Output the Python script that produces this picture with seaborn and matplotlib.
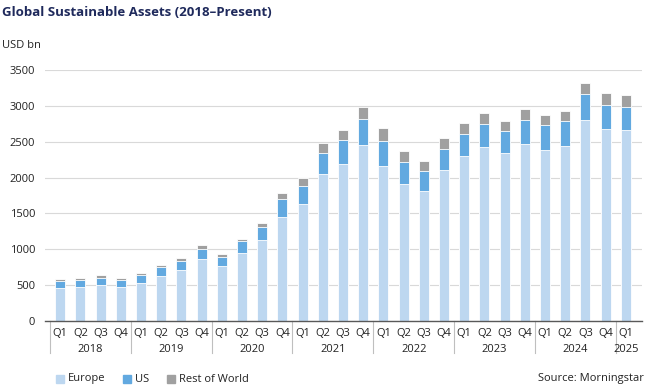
import matplotlib
matplotlib.use("Agg")
import matplotlib.pyplot as plt
import seaborn as sns
import pandas as pd
import numpy as np
from matplotlib.patches import Rectangle

years = ["2018", "2019", "2020", "2021", "2022", "2023", "2024", "2025"]
quarters = ["Q1", "Q2", "Q3", "Q4"] * 7 + ["Q1"]
europe = [464, 474, 497, 478, 534, 632, 706, 864, 767, 948, 1125, 1454, 1631, 2045, 2193, 2453,
          2156, 1910, 1816, 2105, 2300, 2426, 2338, 2472, 2388, 2440, 2806, 2681, 2663]
us = [93, 93, 98, 93, 102, 116, 126, 135, 121, 163, 181, 242, 255, 302, 326, 358,
      358, 306, 275, 288, 302, 316, 306, 334, 340, 344, 358, 334, 325]
rest = [33, 28, 41, 24, 33, 37, 46, 56, 41, 37, 60, 93, 107, 130, 144, 177,
        172, 158, 144, 154, 163, 158, 144, 145, 148, 148, 158, 163, 162]

labels = [f"{q}\n{i}" for i, q in enumerate(quarters)]
df = pd.DataFrame({"idx": labels,
                   "europe": europe,
                   "eu_us": np.array(europe) + np.array(us),
                   "total": np.array(europe) + np.array(us) + np.array(rest)})

c_eu, c_us, c_rw = "#bdd7f0", "#62a9e0", "#a0a0a0"
font = "Open Sans"
plt.rcParams["font.family"] = [font, "DejaVu Sans"]

fig = plt.figure(figsize=(6.46, 3.88), dpi=100)
ax = fig.add_axes([45 / 646, 1 - 321 / 388, (642 - 45) / 646, (321 - 70) / 388])

kw = dict(width=0.5, edgecolor="white", linewidth=0.6, ax=ax, order=labels)
sns.barplot(data=df, x="idx", y="total", color=c_rw, saturation=1, **kw)
sns.barplot(data=df, x="idx", y="eu_us", color=c_us, saturation=1, **kw)
sns.barplot(data=df, x="idx", y="europe", color=c_eu, saturation=1, **kw)

ax.set_ylim(0, 3500)
ax.set_xlim(-0.75, 28.8)
ax.set_yticks(range(0, 3501, 500))
ax.set_yticklabels([str(v) for v in range(0, 3501, 500)], fontsize=8, color="#222222")
ax.set_xticks(range(len(quarters)))
ax.set_xticklabels(quarters, fontsize=8, color="#222222")
ax.tick_params(axis="both", length=0)
ax.tick_params(axis="x", pad=5)
ax.tick_params(axis="y", pad=7)
ax.set_xlabel("")
ax.set_ylabel("")
ax.yaxis.grid(True, color="#d9d9d9", linewidth=0.8)
ax.set_axisbelow(True)
for s in ["top", "right", "left"]:
    ax.spines[s].set_visible(False)
ax.spines["bottom"].set_color("#595959")
ax.spines["bottom"].set_linewidth(1.0)

# year group separators and labels
trans = ax.get_xaxis_transform()
bounds = [-0.5, 3.5, 7.5, 11.5, 15.5, 19.5, 23.5, 27.5, 28.5]
for b in bounds[:-1]:
    ax.plot([b, b], [0, -32 / 251], transform=trans, color="#bfbfbf", lw=0.8, clip_on=False)
for i, y in enumerate(years):
    mid = (bounds[i] + bounds[i + 1]) / 2
    ax.text(mid, -28 / 251, y, transform=trans, ha="center", va="center", fontsize=8, color="#222222")

fig.text(2 / 646, 1 - 12 / 388, "Global Sustainable Assets (2018\u2013Present)", fontsize=9.5,
         fontweight="bold", color="#1f2a5c", va="center", ha="left")
fig.text(2 / 646, 1 - 45 / 388, "USD bn", fontsize=8, color="#222222", va="center", ha="left")

# legend
items = [("Europe", c_eu, 56), ("US", c_us, 123), ("Rest of World", c_rw, 167)]
for name, col, x in items:
    fig.patches.append(Rectangle((x / 646, 1 - 383 / 388), 8 / 646, 8 / 388,
                                 transform=fig.transFigure, color=col, figure=fig))
    fig.text((x + 12) / 646, 1 - 379 / 388, name, fontsize=8, color="#222222", va="center", ha="left")
fig.text(644 / 646, 1 - 379 / 388, "Source: Morningstar", fontsize=8, color="#222222",
         va="center", ha="right")

fig.savefig("out.png", dpi=100)
